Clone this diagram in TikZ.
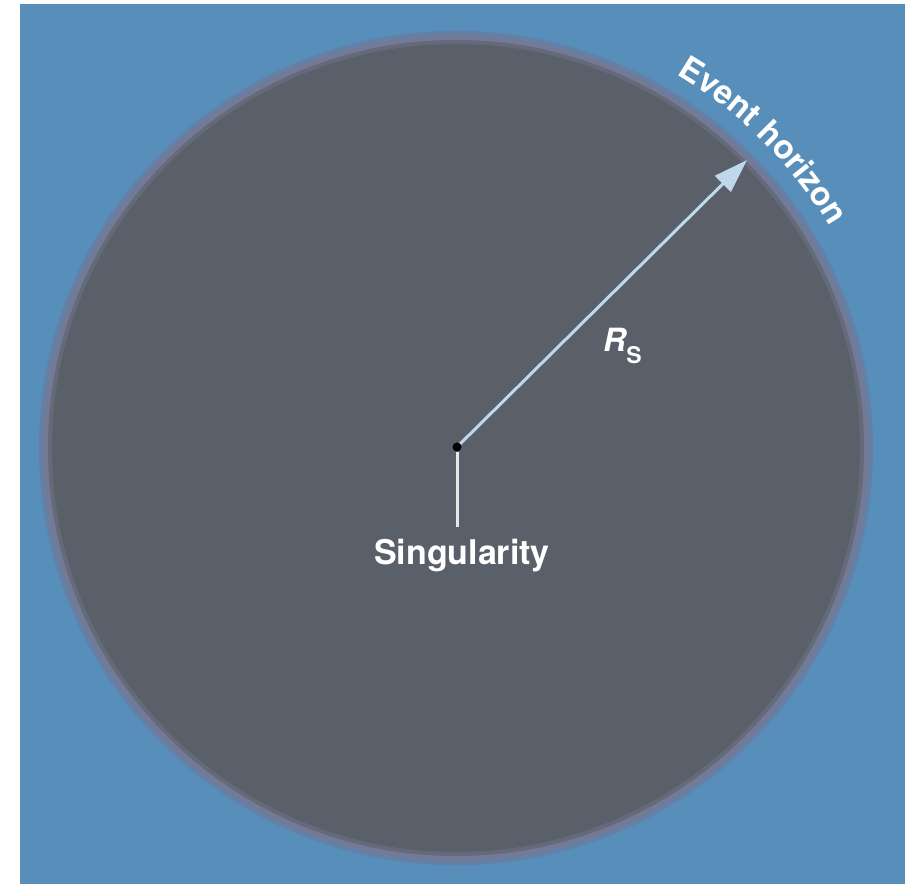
\documentclass[tikz,border=0pt]{standalone}
\usepackage{fontspec}
\setmainfont{TeX Gyre Heros}
\usetikzlibrary{arrows.meta,decorations.text}
\definecolor{bgblue}{RGB}{88,142,186}
\definecolor{rimouter}{RGB}{100,128,166}
\definecolor{rimcol}{RGB}{114,122,150}
\definecolor{rimin}{RGB}{100,106,122}
\definecolor{holegray}{RGB}{90,96,106}
\definecolor{arrowblue}{RGB}{192,216,236}
\definecolor{stemwhite}{RGB}{232,232,232}
\tikzset{
  lbl/.style={text=white,inner sep=0pt,font=\fontsize{34}{40}\selectfont\bfseries},
  radiusarrow/.style={draw=arrowblue,line width=3pt,-{Triangle[length=34pt,width=22pt]}},
  stem/.style={draw=stemwhite,line width=3pt},
}
\begin{document}
\begin{tikzpicture}[x=1pt,y=1pt]
\useasboundingbox (0,0) rectangle (908,884);
\fill[white] (0,0) rectangle (908,884);
\fill[bgblue] (20,0) rectangle (905,880);
% black hole with soft rim
\fill[rimouter] (456,436) circle[radius=417pt];
\fill[rimcol] (456,436) circle[radius=413pt];
\fill[rimin] (456,436) circle[radius=408pt];
\fill[holegray] (456,436) circle[radius=404pt];
% singularity
\node[circle,fill=black,inner sep=0pt,minimum size=9pt] (sing) at (457,437) {};
\coordinate (tip) at (747,724);
\draw[radiusarrow] (sing) -- (tip);
\node[lbl,anchor=base] (singlabel) at (462,319) {Singularity};
\draw[stem] (sing.south) -- (457,357);
% R_S label
\node[text=white,inner sep=0pt,anchor=base west] (rs) at (603,532)
  {\fontsize{32}{36}\selectfont\bfseries\itshape R\upshape\raisebox{-12pt}{\fontsize{23}{26}\selectfont S}};
% event horizon
\path[decorate,decoration={text along path,text align=center,
  text={|\fontsize{33}{36}\selectfont\bfseries\color{white}|Event horizon}}]
  (456,436) ++(63:434pt) arc[start angle=63,end angle=27,radius=434pt];
\end{tikzpicture}
\end{document}
